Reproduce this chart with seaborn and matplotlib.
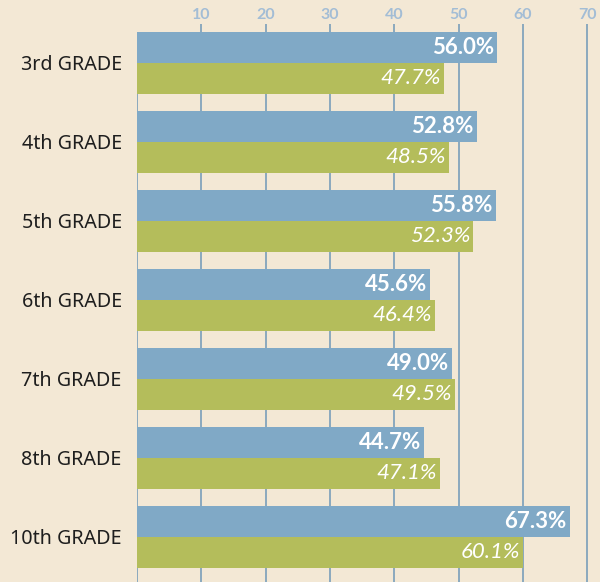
import pandas as pd
import seaborn as sns
import matplotlib.pyplot as plt

grades = ["3rd GRADE", "4th GRADE", "5th GRADE", "6th GRADE",
          "7th GRADE", "8th GRADE", "10th GRADE"]
series_a = [56.0, 52.8, 55.8, 45.6, 49.0, 44.7, 67.3]
series_b = [47.7, 48.5, 52.3, 46.4, 49.5, 47.1, 60.1]
ticks = [10, 20, 30, 40, 50, 60, 70]

bg = "#f3e8d5"
blue = "#80a9c6"
green = "#b4bd5b"
grid = "#6f98b8"

df = pd.DataFrame({
    "grade": grades * 2,
    "value": series_a + series_b,
    "series": ["a"] * len(grades) + ["b"] * len(grades),
})

sns.set_style("white")
plt.rcParams["font.family"] = ["Lato", "DejaVu Sans"]

fig = plt.figure(figsize=(6, 5.82), dpi=100, facecolor=bg)
ax = fig.add_axes([0.2283, 0.0, 0.7717, 0.945])
ax.set_facecolor(bg)

sns.barplot(data=df, y="grade", x="value", hue="series", orient="h",
            palette=[blue, green], width=0.785, saturation=1,
            linewidth=0, edgecolor="none",
            legend=False, ax=ax, zorder=2)

ax.set_xlim(0, 72.0)
ax.set_ylim(6.57, -0.39)
ax.xaxis.tick_top()
ax.set_xticks(ticks)
ax.set_xticklabels([str(t) for t in ticks], color="#a3bdd5", fontsize=11.5,
                   fontweight="bold")
ax.tick_params(axis="x", length=6, width=1.1, color=grid, pad=1.5)
ax.tick_params(axis="y", length=0, pad=11)
ax.set_yticks(range(len(grades)))
ax.set_yticklabels(grades, fontsize=14.2, color="#1e1e1e")
for lbl in ax.get_yticklabels():
    lbl.set_fontfamily(["Noto Sans", "DejaVu Sans"])
ax.set_xlabel("")
ax.set_ylabel("")
for t in [0] + ticks:
    ax.axvline(t, color=grid, lw=1.1, zorder=1)
for s in ax.spines.values():
    s.set_visible(False)

# value labels inside the bar ends
for i, (a, b) in enumerate(zip(series_a, series_b)):
    ax.text(a - 0.5, i - 0.196, f"{a:.1f}%", ha="right", va="center",
            color="white", fontsize=16, fontweight="bold", zorder=3)
    ax.text(b - 0.5, i + 0.196, f"{b:.1f}%", ha="right", va="center",
            color="white", fontsize=16, style="italic", zorder=3)

fig.savefig("out.png", dpi=100, facecolor=bg)
